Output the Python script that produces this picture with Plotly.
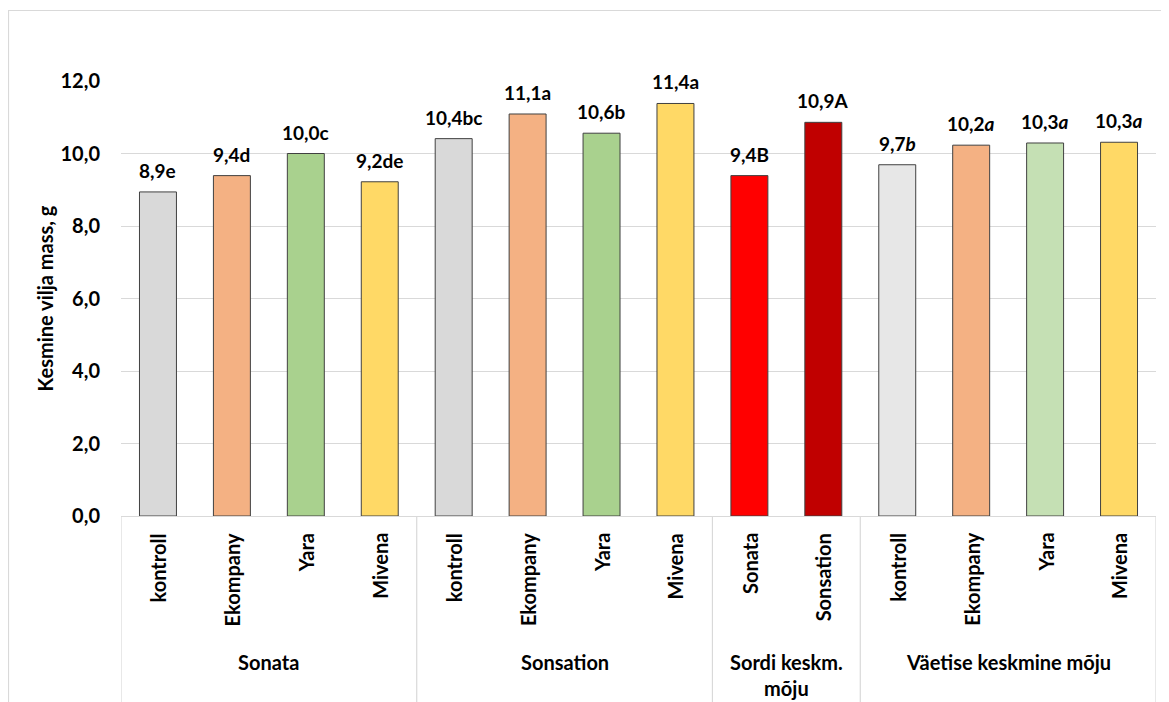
import plotly.graph_objects as go

categories = ["kontroll", "Ekompany", "Yara", "Mivena",
              "kontroll", "Ekompany", "Yara", "Mivena",
              "Sonata", "Sonsation",
              "kontroll", "Ekompany", "Yara", "Mivena"]
values = [8.94, 9.39, 10.0, 9.22,
          10.41, 11.09, 10.56, 11.38,
          9.39, 10.86,
          9.69, 10.23, 10.29, 10.31]
value_text = ["8,9", "9,4", "10,0", "9,2",
              "10,4", "11,1", "10,6", "11,4",
              "9,4", "10,9",
              "9,7", "10,2", "10,3", "10,3"]
letters = ["e", "d", "c", "de",
           "bc", "a", "b", "a",
           "B", "A",
           "b", "a", "a", "a"]
italic_letters = [False] * 10 + [True] * 4
colors = ["#D9D9D9", "#F4B183", "#A9D18E", "#FFD966",
          "#D9D9D9", "#F4B183", "#A9D18E", "#FFD966",
          "#FF0000", "#C00000",
          "#E7E7E7", "#F4B183", "#C5E0B4", "#FFD966"]
groups = ["Sonata", "Sonsation", "Sordi keskm.<br>mõju", "Väetise keskmine mõju"]
group_sizes = [4, 4, 2, 4]
y_ticks = [0, 2, 4, 6, 8, 10, 12]

FONT = "Lato"
OFF = 8  # page body margin
W, H = 1169 - OFF, 702 - OFF
PL, PR, PT, PB = 121, 1156, 81, 516  # plot area in page pixels
L, R, T, B = PL - OFF, OFF + W - PR, PT - OFF, OFF + H - PB
PW = PR - PL
PH = PB - PT


def px_x(p):
    return (p - PL) / PW


def px_y(p):
    return (PB - p) / PH


x = list(range(len(values)))

fig = go.Figure()
fig.add_trace(go.Bar(
    x=x, y=values, width=0.5,
    marker=dict(color=colors, line=dict(color="#404040", width=1)),
    hoverinfo="skip",
))

annotations = []
for i, v in enumerate(values):
    lt = f"<i>{letters[i]}</i>" if italic_letters[i] else letters[i]
    annotations.append(dict(
        x=i, y=v, xref="x", yref="y", text=f"<b>{value_text[i]}{lt}</b>",
        showarrow=False, yanchor="bottom", xanchor="center", yshift=8,
        font=dict(family=FONT, size=19, color="#000000"),
    ))
    annotations.append(dict(
        x=i, y=px_y(531), xref="x", yref="paper", text=f"<b>{categories[i]}</b>",
        showarrow=False, textangle=-90, yanchor="top", xanchor="center",
        font=dict(family=FONT, size=20, color="#000000"),
    ))

shapes = []
start = 0
bounds = [-0.5]
for g, n in zip(groups, group_sizes):
    center = start + (n - 1) / 2
    two = "<br>" in g
    annotations.append(dict(
        x=center, y=px_y(648) if two else px_y(662), xref="x", yref="paper",
        text=f"<b>{g}</b>",
        showarrow=False, yanchor="top" if two else "middle",
        xanchor="center",
        font=dict(family=FONT, size=20, color="#000000"),
    ))
    start += n
    bounds.append(start - 0.5)

for b in bounds:
    shapes.append(dict(type="line", xref="x", yref="paper", x0=b, x1=b,
                       y0=0, y1=px_y(710),
                       line=dict(color="#D9D9D9", width=1.2)))

# chart border
shapes.append(dict(type="rect", xref="paper", yref="paper",
                   x0=px_x(8.5), x1=px_x(1190),
                   y0=px_y(730), y1=px_y(10.5),
                   line=dict(color="#D9D9D9", width=1.2), fillcolor="rgba(0,0,0,0)"))

annotations.append(dict(
    x=px_x(44), y=0.5, xref="paper", yref="paper",
    text="<b>Kesmine vilja mass, g</b>", showarrow=False, textangle=-90,
    xanchor="center", yanchor="middle",
    font=dict(family=FONT, size=20, color="#000000"),
))

fig.update_layout(
    width=W, height=H,
    margin=dict(l=L, r=R, t=T, b=B, pad=0),
    paper_bgcolor="white", plot_bgcolor="white",
    separators=",.",
    showlegend=False,
    xaxis=dict(range=[-0.5, 13.5], showticklabels=False, showgrid=False,
               zeroline=False, showline=True, linecolor="#D9D9D9", linewidth=1.2,
               ticks=""),
    yaxis=dict(range=[0, 12], tickvals=y_ticks, tickformat=".1f",
               showgrid=True, gridcolor="#D9D9D9", gridwidth=1.2,
               zeroline=False, showline=False, ticks="",
               ticklabelstandoff=20,
               tickfont=dict(family=FONT, size=20, color="#000000", weight="bold")),
    annotations=annotations,
    shapes=shapes,
)

fig.write_html("out.html")
